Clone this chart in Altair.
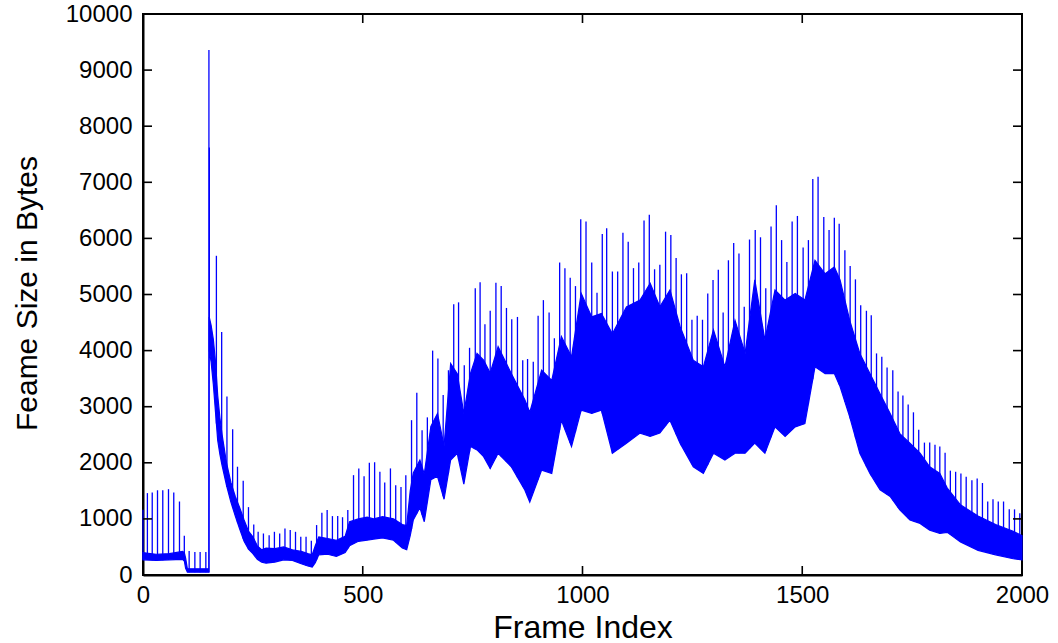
import altair as alt
import pandas as pd
import numpy as np

# Dense body of the trace (lower / upper edge of the band)
env_frame = [0, 30, 60, 90, 94, 97, 101, 148, 150, 150.6, 155, 160, 165, 170, 175, 180, 190, 200,
             210, 220, 230, 240, 250, 260, 270, 280, 300, 320, 340, 360, 375, 385, 392, 400, 420,
             440, 460, 470, 490, 510, 525, 545, 570, 590, 600, 608, 615, 630, 640, 655, 670, 685,
             700, 715, 730, 745, 760, 775, 790, 808, 838, 869, 880, 907, 930, 952, 975, 997, 1021,
             1043, 1068, 1100, 1131, 1154, 1176, 1199, 1222, 1252, 1275, 1298, 1324, 1347, 1370,
             1392, 1415, 1438, 1461, 1484, 1506, 1529, 1552, 1573, 1586, 1608, 1631, 1654, 1677,
             1700, 1722, 1745, 1768, 1790, 1813, 1830, 1860, 1900, 1940, 1980, 2000]
env_low = [270, 260, 270, 280, 250, 120, 50, 50, 50, 4000, 3800, 3400, 2900, 2400, 2150, 1950, 1600, 1300,
           1050, 820, 600, 460, 380, 280, 230, 210, 230, 270, 260, 200, 160, 140, 220, 360, 370,
           330, 400, 520, 600, 620, 640, 660, 620, 480, 450, 700, 980, 1200, 950, 1700, 1760, 1350,
           2050, 2170, 1620, 2290, 2230, 2110, 1900, 2170, 1930, 1510, 1300, 1870, 1810, 2760, 2290, 2940, 2880,
           2940, 2170, 2350, 2530, 2470, 2530, 2760, 2350, 1930, 1810, 2170, 2050, 2170, 2170,
           2350, 2170, 2640, 2470, 2640, 2700, 3710, 3590, 3590, 3360, 2820, 2170, 1810, 1520,
           1400, 1160, 980, 920, 800, 740, 760, 590, 440, 360, 290, 270]
env_high = [400, 370, 380, 420, 400, 300, 110, 110, 110, 4600, 4450, 4200, 3800, 3200, 2800, 2500, 2000, 1650,
            1400, 1200, 980, 780, 680, 520, 450, 480, 470, 500, 450, 420, 380, 360, 520, 680, 650,
            620, 690, 950, 1000, 1030, 1000, 1040, 1000, 900, 880, 1500, 1820, 2050, 1800, 2650, 2880, 2300,
            3770, 3590, 2880, 3590, 3950, 3830, 3600, 4070, 3590, 3120, 2900, 3650, 3470, 4250, 3890, 5020, 4600,
            4660, 4300, 4780, 4900, 5200, 4780, 5080, 4430, 3830, 3710, 4370, 3710, 4540, 3950,
            5260, 4190, 5080, 4900, 5020, 4900, 5610, 5370, 5490, 5260, 4540, 3950, 3590, 3230,
            2880, 2520, 2350, 2170, 1930, 1810, 1550, 1250, 1050, 900, 780, 700]

# Periodic peaks (I-frames)
spike_frame = [0, 10, 21, 33, 45, 58, 70, 83, 94, 105, 118, 130, 143, 150, 151, 167, 179, 191, 204, 215,
               228, 240, 252, 262, 274, 287, 299, 311, 323, 335, 347, 359, 371, 383, 395, 407, 419, 431,
               443, 454, 466, 479, 491, 503, 515, 527, 539, 550, 563, 575, 587, 598, 611, 623, 635, 647,
               659, 671, 683, 695, 707, 718, 731, 743, 756, 767, 778, 790, 803, 815, 827, 839, 852, 864,
               875, 888, 899, 911, 924, 936, 948, 960, 972, 984, 996, 1008, 1021, 1033, 1045, 1055, 1068,
               1080, 1092, 1104, 1116, 1128, 1140, 1152, 1164, 1176, 1189, 1201, 1213, 1225, 1237, 1249,
               1261, 1273, 1285, 1297, 1309, 1320, 1332, 1344, 1356, 1368, 1380, 1393, 1405, 1417, 1429,
               1441, 1453, 1465, 1477, 1489, 1502, 1514, 1524, 1536, 1549, 1561, 1573, 1584, 1597, 1609,
               1621, 1633, 1646, 1657, 1669, 1681, 1693, 1706, 1718, 1729, 1741, 1753, 1765, 1778, 1790,
               1802, 1813, 1825, 1837, 1849, 1861, 1873, 1886, 1898, 1910, 1922, 1934, 1946, 1958, 1971,
               1983, 1995]
spike_peak = [1165, 1460, 1470, 1510, 1510, 1530, 1470, 1310, 700, 430, 410, 410, 410, 9360, 7620, 5690, 4330, 3180, 2600, 1930,
              1680, 1210, 900, 770, 740, 710, 770, 740, 830, 800, 770, 680, 680, 610, 890, 1110, 1160, 1050,
              1050, 1030, 1160, 1780, 1900, 1760, 2000, 2010, 1840, 1650, 1900, 1600, 1570, 1780, 2760, 3250, 2580, 2810,
              4000, 3860, 3210, 3650, 4825, 4860, 3740, 4050, 5110, 5220, 4470, 4710, 5210, 5150, 4760, 4560, 4600, 3830,
              3850, 3800, 4620, 4900, 4680, 4220, 5570, 5470, 5300, 5150, 6340, 6300, 5570, 5030, 6080, 6180, 5410,
              5410, 6100, 5940, 5470, 5570, 6320, 6420, 5450, 5530, 6120, 6060, 5650, 5360, 5380, 4550,
              4620, 4550, 5020, 5260, 5440, 4680, 5610, 5920, 5730, 4780, 5980, 6150, 6020, 5110, 6210,
              6590, 5970, 5580, 6300, 6400, 5840, 5970, 7060, 7100, 6380, 6150, 6370, 6260, 5790, 5510,
              5270, 4810, 4710, 4630, 3950, 3890, 3700, 3650, 3270, 3200, 3040, 2900, 2590, 2360, 2360,
              2320, 2290, 2180, 1860, 1840, 1810, 1750, 1690, 1720, 1640, 1310, 1350, 1310, 1310, 1170,
              1170, 1100]

x_ticks = [0, 500, 1000, 1500, 2000]
y_ticks = [0, 1000, 2000, 3000, 4000, 5000, 6000, 7000, 8000, 9000, 10000]

W, H = 879, 561
FONT = "Liberation Sans"
BLUE = "#0000ff"

env = pd.DataFrame({"frame": env_frame, "low": env_low, "high": env_high})
spk = pd.DataFrame({"frame": spike_frame, "peak": spike_peak})
spk["base"] = np.interp(spk["frame"], env["frame"], env["low"])
ydf = pd.DataFrame({"v": y_ticks})
xdf = pd.DataFrame({"v": x_ticks})

xs = alt.Scale(domain=[0, 2000], nice=False, zero=False)
ys = alt.Scale(domain=[0, 10000], nice=False)

xaxis = alt.Axis(values=x_ticks, ticks=False, tickSize=0, domain=True, domainColor="black",
                 domainWidth=2, grid=False, format="d", labelFlush=False,
                 labelFont=FONT, labelFontSize=24, labelPadding=8, labelColor="black",
                 title="Frame Index", titleFont=FONT, titleFontSize=32, titleFontWeight="normal",
                 titleColor="black", titleY=62, titleBaseline="alphabetic")
yaxis = alt.Axis(values=y_ticks, ticks=False, tickSize=0, domain=True, domainColor="black",
                 domainWidth=2, grid=False, format="d", labelFlush=False,
                 labelFont=FONT, labelFontSize=24, labelPadding=11, labelColor="black",
                 title="Feame Size in Bytes", titleFont=FONT, titleFontSize=30, titleFontWeight="normal",
                 titleColor="black", titleX=-107, titleY=279, titleBaseline="alphabetic")


def X(f):
    return alt.X(f, type="quantitative", scale=xs, axis=xaxis)


def Y(f):
    return alt.Y(f, type="quantitative", scale=ys, axis=yaxis)


band = alt.Chart(env).mark_area(color=BLUE, stroke=BLUE, strokeWidth=1.2, opacity=1).encode(
    x=X("frame"), y=Y("low"), y2="high")
spikes = alt.Chart(spk).mark_rule(color=BLUE, strokeWidth=1.3).encode(
    x=X("frame"), y=Y("base"), y2="peak")

yt_left = alt.Chart(ydf).mark_rule(color="black", strokeWidth=1.6).encode(
    y=Y("v"), x=alt.value(0), x2=alt.value(9))
yt_right = alt.Chart(ydf).mark_rule(color="black", strokeWidth=1.6).encode(
    y=Y("v"), x=alt.value(W - 9), x2=alt.value(W))
xt_bottom = alt.Chart(xdf).mark_rule(color="black", strokeWidth=1.6).encode(
    x=X("v"), y=alt.value(H - 9), y2=alt.value(H))
xt_top = alt.Chart(xdf).mark_rule(color="black", strokeWidth=1.6).encode(
    x=X("v"), y=alt.value(0), y2=alt.value(9))

chart = alt.layer(band, spikes, yt_left, yt_right, xt_bottom, xt_top).properties(
    width=W, height=H,
    background="white",
    padding={"left": 143, "top": 14, "right": 36, "bottom": 68},
    autosize=alt.AutoSizeParams(type="none"),
).configure_view(stroke="black", strokeWidth=2)

chart.save("out.html", embed_options={"renderer": "svg", "actions": False})
